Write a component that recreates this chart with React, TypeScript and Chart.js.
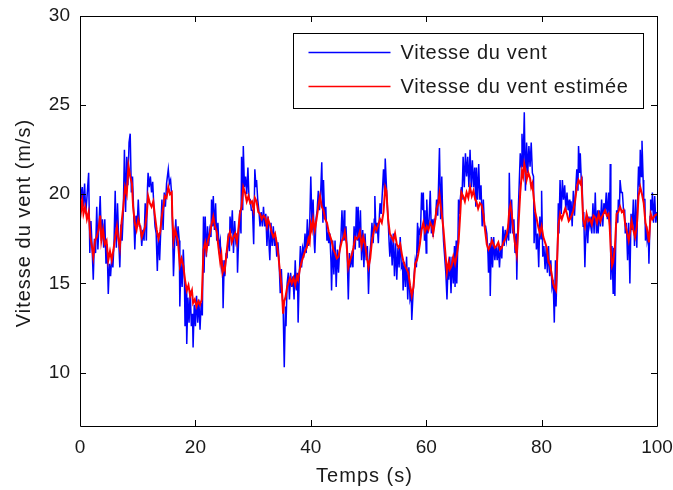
import React, { useEffect, useRef } from "react";
import { Chart, registerables } from "chart.js";

Chart.register(...registerables);

const seriesNames = ["Vitesse du vent", "Vitesse du vent estimée"];
const xTitle = "Temps (s)";
const yTitle = "Vitesse du vent (m/s)";
const xTicks = [0, 20, 40, 60, 80, 100];
const yTicks = [10, 15, 20, 25, 30];
const xRange = [0, 100];
const yRange = [7, 30];

// measured wind speed [time (s), speed (m/s)]
const windMeasured: [number, number][] = [
  [0.0, 20.8], [0.2, 19.7], [0.4, 20.4], [0.6, 19.3], [0.8, 20.6], [1.0, 18.9], [1.2, 19.8], [1.5, 21.2], [1.7, 16.7], [1.9, 18.5],
  [2.1, 17.0], [2.3, 15.2], [2.5, 17.5], [2.7, 16.7], [2.9, 19.3], [3.1, 16.9], [3.3, 18.4], [3.5, 19.9], [3.7, 17.4], [3.9, 18.6],
  [4.1, 17.0], [4.3, 18.6], [4.5, 16.1], [4.7, 17.2], [4.9, 14.4], [5.1, 16.1], [5.3, 15.4], [5.5, 16.5], [5.7, 15.9], [5.9, 17.3],
  [6.1, 20.2], [6.3, 17.0], [6.5, 19.5], [6.7, 17.5], [6.9, 15.9], [7.1, 18.3], [7.3, 17.4], [7.5, 19.0], [7.7, 22.5], [7.9, 19.0],
  [8.1, 22.1], [8.3, 20.5], [8.5, 22.9], [8.7, 23.4], [8.9, 20.1], [9.1, 21.0], [9.3, 19.0], [9.5, 16.9], [9.7, 18.8], [9.9, 18.2],
  [10.1, 19.7], [10.3, 18.2], [10.5, 18.2], [10.7, 17.1], [10.9, 18.0], [11.1, 17.4], [11.3, 19.5], [11.5, 17.4], [11.7, 20.4], [11.8, 21.2],
  [12.0, 20.4], [12.2, 21.0], [12.4, 20.1], [12.6, 20.7], [12.8, 19.3], [13.0, 18.2], [13.2, 17.8], [13.4, 15.7], [13.6, 17.8], [13.8, 16.3],
  [14.0, 18.0], [14.2, 19.7], [14.4, 18.0], [14.6, 20.1], [14.8, 19.3], [15.0, 20.6], [15.3, 21.4], [15.5, 20.6], [15.7, 20.8], [15.9, 19.9],
  [16.0, 18.7], [16.2, 15.4], [16.4, 17.2], [16.6, 18.6], [16.8, 17.1], [17.0, 18.2], [17.2, 17.4], [17.3, 13.7], [17.5, 16.2], [17.7, 14.8],
  [17.9, 16.9], [18.1, 15.2], [18.2, 12.6], [18.4, 14.8], [18.5, 11.6], [18.7, 14.2], [18.9, 12.8], [19.1, 14.6], [19.3, 12.6], [19.5, 13.3],
  [19.6, 11.4], [19.8, 13.8], [20.0, 12.6], [20.2, 14.3], [20.4, 12.8], [20.6, 14.1], [20.8, 12.4], [21.0, 13.9], [21.2, 13.2], [21.4, 18.75],
  [21.5, 15.6], [21.7, 18.75], [21.9, 16.5], [22.1, 18.2], [22.3, 17.1], [22.5, 18.0], [22.7, 17.6], [22.8, 19.7], [23.0, 18.2], [23.1, 19.9],
  [23.3, 18.0], [23.5, 19.5], [23.7, 17.4], [23.9, 18.4], [24.1, 17.0], [24.3, 17.4], [24.5, 15.9], [24.7, 16.3], [24.8, 13.6], [25.0, 16.3],
  [25.1, 15.4], [25.3, 16.6], [25.5, 16.5], [25.7, 17.8], [25.9, 16.8], [26.0, 18.75], [26.2, 17.8], [26.4, 19.1], [26.6, 16.7], [26.8, 18.5],
  [27.0, 17.4], [27.2, 17.8], [27.3, 15.6], [27.5, 17.6], [27.7, 19.1], [27.9, 17.8], [28.0, 22.1], [28.2, 19.1], [28.3, 22.7], [28.5, 20.4],
  [28.7, 21.0], [28.9, 20.0], [29.1, 21.5], [29.3, 19.7], [29.5, 19.7], [29.7, 19.1], [29.9, 19.1], [30.1, 17.2], [30.3, 21.4], [30.5, 20.4],
  [30.6, 20.8], [30.8, 19.7], [31.0, 19.1], [31.2, 18.2], [31.4, 19.0], [31.6, 18.2], [31.8, 19.3], [32.0, 18.2], [32.2, 18.9], [32.4, 17.1],
  [32.6, 18.75], [32.8, 16.9], [32.9, 16.3], [33.1, 18.4], [33.3, 17.1], [33.5, 18.2], [33.7, 17.1], [33.9, 17.6], [34.1, 16.5], [34.3, 17.3],
  [34.5, 16.3], [34.7, 14.45], [34.9, 15.8], [35.1, 14.1], [35.2, 13.7], [35.4, 10.3], [35.6, 13.7], [35.7, 12.6], [35.9, 15.0], [36.1, 15.6],
  [36.3, 14.1], [36.5, 15.6], [36.7, 14.8], [36.9, 15.4], [37.1, 14.1], [37.3, 16.3], [37.5, 14.6], [37.7, 15.6], [37.8, 12.8], [38.0, 15.4],
  [38.2, 17.1], [38.4, 15.9], [38.6, 17.0], [38.8, 16.7], [39.0, 17.8], [39.2, 16.7], [39.4, 18.6], [39.6, 17.1], [39.8, 18.2], [40.0, 21.0],
  [40.2, 18.3], [40.4, 19.7], [40.6, 17.25], [40.7, 16.7], [40.9, 18.6], [41.1, 19.1], [41.3, 20.2], [41.5, 19.1], [41.7, 20.0], [41.9, 21.8],
  [42.1, 18.4], [42.2, 20.8], [42.4, 18.6], [42.6, 19.3], [42.8, 17.4], [43.0, 17.8], [43.1, 17.25], [43.3, 17.8], [43.5, 16.2], [43.6, 14.6],
  [43.8, 17.4], [44.0, 15.5], [44.2, 17.4], [44.4, 14.8], [44.6, 16.9], [44.8, 15.6], [45.0, 16.9], [45.2, 17.4], [45.4, 19.1], [45.6, 17.4],
  [45.8, 19.1], [45.9, 17.4], [46.1, 18.2], [46.3, 16.7], [46.5, 14.1], [46.7, 16.7], [46.9, 15.9], [47.1, 16.5], [47.3, 15.9], [47.5, 18.2],
  [47.7, 16.9], [47.9, 19.3], [48.1, 17.4], [48.2, 19.3], [48.4, 17.0], [48.6, 19.1], [48.8, 16.3], [49.0, 18.0], [49.2, 15.9], [49.4, 17.8],
  [49.6, 16.3], [49.8, 17.1], [50.0, 14.4], [50.2, 16.5], [50.4, 17.25], [50.6, 18.4], [50.8, 17.25], [51.0, 18.6], [51.1, 19.9], [51.3, 17.8],
  [51.5, 18.4], [51.7, 17.25], [51.9, 18.9], [52.0, 19.5], [52.2, 18.9], [52.4, 20.1], [52.6, 21.4], [52.8, 20.1], [52.9, 22.0], [53.1, 20.5],
  [53.3, 19.1], [53.4, 18.6], [53.6, 17.1], [53.7, 16.5], [53.9, 17.6], [54.1, 16.0], [54.3, 17.8], [54.5, 15.4], [54.7, 17.25], [54.9, 15.2],
  [55.1, 17.0], [55.3, 15.9], [55.5, 17.6], [55.7, 15.9], [55.9, 16.1], [56.0, 14.6], [56.2, 16.2], [56.4, 14.8], [56.6, 16.5], [56.8, 14.1],
  [57.0, 15.9], [57.2, 14.1], [57.4, 14.4], [57.5, 12.95], [57.7, 14.3], [57.9, 15.4], [58.1, 16.3], [58.3, 15.9], [58.5, 18.4], [58.6, 16.7],
  [58.8, 18.0], [59.0, 17.8], [59.2, 20.1], [59.4, 19.1], [59.5, 20.1], [59.7, 17.4], [59.8, 19.1], [60.0, 16.7], [60.1, 19.7], [60.3, 17.8],
  [60.5, 18.6], [60.7, 20.2], [60.9, 17.8], [61.1, 18.6], [61.2, 17.6], [61.4, 18.6], [61.6, 18.6], [61.8, 19.7], [62.0, 18.8], [62.3, 22.6],
  [62.5, 18.6], [62.7, 21.0], [62.9, 18.2], [63.0, 17.4], [63.2, 16.5], [63.4, 15.6], [63.6, 14.1], [63.8, 16.1], [63.9, 15.2], [64.1, 16.5],
  [64.3, 14.45], [64.5, 16.5], [64.7, 15.0], [64.9, 17.1], [65.0, 14.8], [65.2, 17.4], [65.3, 15.0], [65.5, 17.4], [65.6, 19.7], [65.8, 18.9],
  [65.9, 19.7], [66.1, 20.4], [66.2, 19.7], [66.4, 22.1], [66.6, 20.4], [66.8, 22.3], [67.0, 21.0], [67.2, 22.1], [67.4, 20.4], [67.6, 22.5],
  [67.8, 20.4], [68.0, 21.9], [68.2, 20.4], [68.4, 21.5], [68.6, 19.3], [68.7, 21.5], [68.9, 19.7], [69.1, 21.7], [69.3, 19.7], [69.5, 20.5],
  [69.7, 18.2], [69.9, 19.7], [70.1, 18.2], [70.3, 18.2], [70.5, 17.8], [70.7, 16.7], [70.8, 15.6], [71.0, 17.25], [71.1, 14.3], [71.3, 17.6],
  [71.5, 15.9], [71.7, 17.6], [71.9, 16.3], [72.1, 17.1], [72.3, 16.3], [72.5, 17.1], [72.7, 15.9], [72.9, 17.1], [73.1, 16.4], [73.3, 18.2],
  [73.5, 17.1], [73.7, 18.0], [73.9, 17.4], [74.1, 18.0], [74.3, 17.4], [74.4, 21.2], [74.6, 17.8], [74.8, 19.7], [75.0, 17.8], [75.2, 18.6],
  [75.4, 16.7], [75.6, 17.8], [75.7, 15.2], [75.9, 18.6], [76.1, 20.4], [76.3, 22.3], [76.5, 21.55], [76.6, 23.4], [76.8, 21.55], [77.0, 24.6],
  [77.2, 20.2], [77.4, 22.9], [77.6, 21.2], [77.8, 22.7], [78.0, 21.55], [78.2, 22.9], [78.4, 21.2], [78.6, 21.0], [78.7, 17.25], [78.9, 19.0],
  [79.1, 16.9], [79.3, 17.8], [79.5, 15.9], [79.7, 18.75], [79.9, 17.5], [80.0, 20.2], [80.2, 16.5], [80.4, 17.1], [80.6, 15.8], [80.8, 17.1],
  [81.0, 15.6], [81.2, 17.1], [81.4, 15.4], [81.6, 16.3], [81.8, 14.8], [82.0, 15.2], [82.2, 12.8], [82.4, 16.3], [82.5, 13.7], [82.7, 16.0],
  [82.9, 19.5], [83.0, 17.8], [83.2, 20.8], [83.4, 18.9], [83.6, 20.8], [83.8, 19.7], [84.0, 20.5], [84.2, 19.1], [84.4, 20.1], [84.6, 19.1],
  [84.8, 19.7], [84.9, 18.6], [85.1, 19.6], [85.3, 18.2], [85.5, 20.2], [85.7, 18.8], [85.9, 20.2], [86.1, 21.4], [86.3, 20.2], [86.4, 22.7],
  [86.6, 21.2], [86.7, 22.3], [86.9, 20.6], [87.0, 21.0], [87.2, 18.2], [87.3, 19.0], [87.5, 15.9], [87.6, 17.1], [87.8, 18.75], [88.0, 17.25],
  [88.2, 18.75], [88.4, 18.2], [88.6, 18.75], [88.7, 17.8], [88.9, 19.5], [89.1, 17.8], [89.3, 20.1], [89.5, 17.8], [89.7, 19.1], [89.8, 17.8],
  [90.0, 19.1], [90.2, 18.2], [90.4, 19.7], [90.6, 18.2], [90.8, 19.5], [91.0, 18.9], [91.2, 20.1], [91.4, 18.6], [91.6, 20.1], [91.8, 18.6],
  [91.9, 21.7], [92.0, 15.2], [92.2, 17.1], [92.4, 14.45], [92.5, 17.0], [92.7, 14.3], [92.9, 18.4], [93.0, 19.1], [93.2, 18.4], [93.3, 19.7],
  [93.5, 19.3], [93.6, 20.8], [93.8, 20.1], [94.0, 20.1], [94.2, 19.1], [94.4, 19.1], [94.5, 17.8], [94.7, 18.4], [94.9, 16.3], [95.1, 18.4],
  [95.3, 15.0], [95.5, 18.9], [95.7, 18.0], [95.9, 19.7], [96.1, 17.1], [96.3, 19.7], [96.5, 17.0], [96.7, 20.4], [96.8, 21.55], [97.0, 20.4],
  [97.1, 22.5], [97.3, 21.0], [97.4, 23.0], [97.6, 20.8], [97.7, 19.7], [97.9, 19.7], [98.0, 17.4], [98.2, 18.2], [98.3, 17.4], [98.5, 17.8],
  [98.6, 16.1], [98.8, 18.75], [98.9, 19.7], [99.1, 19.1], [99.2, 20.1], [99.4, 18.4], [99.6, 19.9], [99.8, 18.4], [100.0, 19.0],
];

// estimated wind speed [time (s), speed (m/s)]
const windEstimated: [number, number][] = [
  [0.0, 19.9], [0.2, 19.1], [0.4, 19.6], [0.6, 18.9], [0.9, 19.3], [1.2, 18.6], [1.5, 19.0], [1.8, 17.6], [2.1, 17.0], [2.3, 16.5],
  [2.6, 17.4], [2.9, 17.6], [3.2, 18.0], [3.5, 18.8], [3.7, 17.4], [4.0, 18.0], [4.3, 17.2], [4.6, 17.4], [4.9, 16.3], [5.2, 16.8],
  [5.5, 16.3], [5.8, 16.9], [6.1, 17.6], [6.4, 18.2], [6.6, 17.6], [6.9, 17.0], [7.2, 18.4], [7.5, 19.3], [7.8, 20.4], [8.1, 20.0],
  [8.4, 21.6], [8.7, 21.0], [9.0, 20.6], [9.2, 19.3], [9.5, 18.4], [9.8, 18.0], [10.1, 18.6], [10.4, 18.2], [10.7, 17.6], [11.0, 17.9],
  [11.3, 18.2], [11.6, 19.0], [11.8, 19.9], [12.1, 19.5], [12.4, 19.3], [12.7, 19.6], [13.0, 18.75], [13.3, 18.0], [13.6, 17.5], [13.9, 17.9],
  [14.2, 18.8], [14.5, 19.4], [14.7, 19.9], [15.0, 19.8], [15.3, 20.4], [15.6, 20.0], [15.9, 20.1], [16.0, 18.8], [16.2, 17.4], [16.5, 18.0],
  [16.8, 17.6], [17.0, 17.3], [17.3, 16.0], [17.6, 16.4], [17.9, 16.0], [18.2, 15.2], [18.5, 14.6], [18.8, 14.9], [19.1, 14.3], [19.4, 14.6],
  [19.6, 13.9], [19.9, 14.1], [20.2, 13.7], [20.5, 14.0], [20.8, 13.8], [21.1, 14.1], [21.4, 16.9], [21.7, 17.3], [21.9, 16.8], [22.2, 17.4],
  [22.5, 17.8], [22.8, 18.3], [23.1, 18.75], [23.4, 18.2], [23.7, 17.9], [24.0, 17.0], [24.3, 16.2], [24.5, 16.6], [24.7, 15.6], [25.0, 15.9],
  [25.1, 15.8], [25.4, 16.7], [25.7, 17.6], [26.0, 17.9], [26.3, 17.3], [26.6, 17.6], [26.9, 17.8], [27.2, 17.3], [27.5, 18.2], [27.7, 18.9],
  [28.0, 19.3], [28.3, 20.4], [28.6, 20.1], [28.9, 19.6], [29.2, 19.9], [29.5, 19.5], [29.8, 19.6], [30.1, 19.1], [30.3, 19.8], [30.6, 19.6],
  [30.9, 19.0], [31.2, 18.9], [31.5, 18.6], [31.8, 18.8], [32.1, 18.7], [32.4, 18.2], [32.6, 18.6], [32.9, 18.3], [33.2, 17.9], [33.5, 17.6],
  [33.8, 17.8], [34.1, 17.25], [34.4, 16.5], [34.7, 15.5], [35.0, 14.6], [35.2, 13.3], [35.4, 14.0], [35.6, 14.2], [35.9, 14.8], [36.1, 15.0],
  [36.4, 15.3], [36.7, 15.0], [37.0, 15.3], [37.3, 14.9], [37.6, 15.4], [37.8, 15.2], [38.1, 15.8], [38.4, 16.2], [38.7, 16.5], [39.0, 16.8],
  [39.3, 17.0], [39.6, 17.5], [39.8, 17.3], [40.0, 18.3], [40.2, 18.0], [40.4, 18.6], [40.7, 18.0], [41.0, 18.6], [41.3, 19.3], [41.6, 19.9],
  [41.9, 19.3], [42.2, 19.1], [42.5, 18.6], [42.8, 18.4], [43.1, 17.9], [43.4, 17.6], [43.6, 17.4], [43.9, 16.9], [44.2, 16.7], [44.5, 16.4],
  [44.8, 16.5], [45.1, 17.0], [45.4, 17.4], [45.7, 17.6], [45.9, 17.9], [46.2, 17.2], [46.5, 15.9], [46.8, 16.3], [47.1, 16.6], [47.4, 17.0],
  [47.7, 17.6], [48.0, 17.5], [48.2, 17.6], [48.5, 17.9], [48.8, 17.1], [49.1, 17.6], [49.4, 17.2], [49.7, 16.5], [50.0, 15.9], [50.3, 16.4],
  [50.6, 17.4], [50.9, 17.9], [51.1, 18.2], [51.4, 18.0], [51.7, 18.3], [52.0, 18.6], [52.3, 18.4], [52.6, 19.0], [52.9, 20.4], [53.1, 20.2],
  [53.4, 18.6], [53.7, 17.8], [54.0, 17.6], [54.3, 17.4], [54.6, 17.8], [54.9, 17.2], [55.2, 17.0], [55.5, 17.2], [55.8, 16.6], [56.0, 16.3],
  [56.3, 16.0], [56.6, 15.8], [56.9, 15.6], [57.2, 14.9], [57.5, 14.3], [57.8, 14.8], [58.1, 16.1], [58.4, 16.3], [58.6, 16.6], [58.9, 17.2],
  [59.2, 18.0], [59.5, 18.4], [59.8, 17.9], [60.1, 18.2], [60.4, 18.0], [60.7, 18.4], [61.0, 18.2], [61.2, 17.8], [61.5, 18.4], [61.8, 19.2],
  [62.1, 19.5], [62.3, 20.0], [62.5, 19.4], [62.7, 18.9], [63.0, 18.0], [63.3, 16.8], [63.6, 15.6], [63.9, 16.2], [64.1, 15.8], [64.4, 16.0],
  [64.7, 16.5], [65.0, 16.1], [65.3, 16.6], [65.6, 17.3], [65.9, 18.9], [66.1, 20.1], [66.4, 19.9], [66.7, 19.6], [67.0, 20.1], [67.3, 19.8],
  [67.6, 20.4], [67.9, 19.9], [68.2, 20.2], [68.5, 19.7], [68.7, 19.6], [69.0, 19.2], [69.3, 19.5], [69.6, 19.4], [69.9, 18.9], [70.2, 18.0],
  [70.5, 17.2], [70.8, 16.9], [71.1, 17.1], [71.4, 17.4], [71.6, 17.25], [71.9, 17.0], [72.2, 17.1], [72.5, 17.3], [72.8, 16.9], [73.1, 17.0],
  [73.4, 17.3], [73.7, 17.5], [74.0, 17.8], [74.2, 18.2], [74.4, 19.1], [74.6, 19.4], [74.8, 19.0], [75.1, 18.0], [75.4, 17.2], [75.7, 16.6],
  [76.0, 18.3], [76.3, 20.1], [76.6, 21.3], [76.8, 21.0], [77.0, 21.7], [77.2, 21.4], [77.4, 20.8], [77.7, 21.2], [78.0, 20.9], [78.2, 20.4],
  [78.4, 20.6], [78.7, 19.6], [78.9, 19.0], [79.1, 18.7], [79.4, 18.2], [79.7, 17.8], [80.0, 18.2], [80.3, 17.6], [80.6, 17.3], [80.9, 17.0],
  [81.2, 16.2], [81.5, 16.0], [81.8, 15.4], [82.0, 15.0], [82.2, 14.8], [82.5, 14.6], [82.7, 16.4], [82.9, 18.2], [83.2, 18.9], [83.5, 18.6],
  [83.8, 18.9], [84.1, 19.2], [84.4, 18.9], [84.7, 18.5], [84.9, 18.6], [85.2, 18.8], [85.5, 19.1], [85.8, 19.6], [86.1, 20.4], [86.4, 20.8],
  [86.7, 20.6], [86.9, 20.8], [87.2, 18.6], [87.5, 18.2], [87.8, 18.9], [88.1, 18.5], [88.4, 18.6], [88.7, 18.3], [89.0, 18.8], [89.3, 18.7],
  [89.6, 18.4], [89.9, 18.9], [90.2, 18.5], [90.4, 18.7], [90.7, 18.9], [91.0, 19.1], [91.3, 18.8], [91.6, 18.9], [91.8, 18.2], [92.0, 16.8],
  [92.2, 16.0], [92.4, 16.2], [92.7, 17.0], [93.0, 18.9], [93.3, 19.0], [93.6, 19.3], [93.9, 19.0], [94.2, 19.1], [94.5, 18.3], [94.8, 17.9],
  [95.1, 17.4], [95.4, 18.0], [95.6, 18.5], [95.9, 18.0], [96.2, 17.6], [96.5, 18.2], [96.8, 19.9], [97.1, 20.4], [97.4, 20.0], [97.7, 19.5],
  [98.0, 18.4], [98.3, 18.0], [98.6, 17.3], [98.9, 18.9], [99.2, 18.6], [99.6, 18.8], [100.0, 18.9],
];

const FONT = "'Liberation Sans', Arial, Helvetica, sans-serif";
const TEXT = "#1a1a1a";
const BLUE = "#0000ff";
const RED = "#ff0000";

const framePlugin = {
  id: "matlabFrame",
  afterDatasetsDraw(chart: any) {
    const { ctx, chartArea } = chart;
    const { left, right, top, bottom } = chartArea;
    const xs = chart.scales.x;
    const ys = chart.scales.y;
    ctx.save();
    ctx.strokeStyle = "#000";
    ctx.lineWidth = 1;
    ctx.beginPath();
    ctx.rect(Math.round(left) + 0.5, Math.round(top) + 0.5, Math.round(right - left), Math.round(bottom - top));
    ctx.stroke();
    const tl = 6;
    ctx.beginPath();
    xTicks.forEach((v) => {
      const px = Math.round(xs.getPixelForValue(v)) + 0.5;
      ctx.moveTo(px, bottom);
      ctx.lineTo(px, bottom - tl);
      ctx.moveTo(px, top);
      ctx.lineTo(px, top + tl);
    });
    yTicks.forEach((v) => {
      const py = Math.round(ys.getPixelForValue(v)) + 0.5;
      ctx.moveTo(left, py);
      ctx.lineTo(left + tl, py);
      ctx.moveTo(right, py);
      ctx.lineTo(right - tl, py);
    });
    ctx.stroke();

    // axis titles
    ctx.fillStyle = TEXT;
    ctx.font = `20px ${FONT}`;
    (ctx as any).letterSpacing = "1px";
    ctx.textAlign = "center";
    ctx.textBaseline = "alphabetic";
    ctx.fillText(xTitle, (left + right) / 2 - 4, bottom + 56);
    ctx.save();
    ctx.translate(30, (top + bottom) / 2 + 2);
    ctx.rotate(-Math.PI / 2);
    ctx.fillText(yTitle, 0, 0);
    ctx.restore();

    // legend box
    const w = 350;
    const h = 75;
    const lx = Math.round(right - 14 - w) + 0.5;
    const ly = Math.round(top + 17) + 0.5;
    ctx.fillStyle = "#fff";
    ctx.fillRect(lx, ly, w, h);
    ctx.strokeStyle = "#000";
    ctx.lineWidth = 1;
    ctx.strokeRect(lx, ly, w, h);
    const rows = [ly + 19, ly + 53];
    const cols = [BLUE, RED];
    ctx.font = `20px ${FONT}`;
    (ctx as any).letterSpacing = "0.7px";
    ctx.textBaseline = "middle";
    ctx.textAlign = "left";
    seriesNames.forEach((name, i) => {
      ctx.strokeStyle = cols[i];
      ctx.lineWidth = 1.5;
      ctx.beginPath();
      ctx.moveTo(lx + 15, rows[i]);
      ctx.lineTo(lx + 97, rows[i]);
      ctx.stroke();
      ctx.fillStyle = TEXT;
      ctx.fillText(name, lx + 107, rows[i] + 1);
    });
    (ctx as any).letterSpacing = "0px";
    ctx.restore();
  },
};

export default function App() {
  const ref = useRef<HTMLCanvasElement | null>(null);
  useEffect(() => {
    if (!ref.current) return;
    const chart = new Chart(ref.current, {
      type: "line",
      data: {
        datasets: [
          {
            label: seriesNames[0],
            data: windMeasured.map(([x, y]) => ({ x, y })),
            borderColor: BLUE,
            borderWidth: 1.5,
            pointRadius: 0,
            tension: 0,
            order: 2,
          },
          {
            label: seriesNames[1],
            data: windEstimated.map(([x, y]) => ({ x, y })),
            borderColor: RED,
            borderWidth: 2,
            pointRadius: 0,
            tension: 0,
            order: 1,
          },
        ],
      },
      options: {
        animation: false,
        responsive: false,
        devicePixelRatio: 1,
        layout: { padding: { left: 0, top: 16, right: 16, bottom: 0 } },
        plugins: { legend: { display: false }, tooltip: { enabled: false } },
        scales: {
          x: {
            type: "linear",
            min: xRange[0],
            max: xRange[1],
            grid: { display: false, drawTicks: false },
            border: { display: false },
            afterBuildTicks: (s: any) => {
              s.ticks = xTicks.map((value) => ({ value }));
            },
            afterFit: (s: any) => {
              s.height = 64;
              s.paddingLeft = 0;
              s.paddingRight = 0;
            },
            ticks: {
              padding: 10,
              color: TEXT,
              font: { family: FONT, size: 19 },
              maxRotation: 0,
              autoSkip: false,
            },
          },
          y: {
            type: "linear",
            min: yRange[0],
            max: yRange[1],
            grid: { display: false, drawTicks: false },
            border: { display: false },
            afterBuildTicks: (s: any) => {
              s.ticks = yTicks.map((value) => ({ value }));
            },
            afterFit: (s: any) => {
              s.width = 80;
              s.paddingTop = 0;
              s.paddingBottom = 0;
            },
            ticks: {
              padding: 10,
              color: TEXT,
              font: { family: FONT, size: 19 },
              autoSkip: false,
            },
          },
        },
      },
      plugins: [framePlugin],
    });
    return () => chart.destroy();
  }, []);
  return (
    <div style={{ position: "absolute", left: 0, top: 0, width: 673, height: 490, background: "#fff" }}>
      <canvas ref={ref} width={673} height={490} style={{ display: "block" }} />
    </div>
  );
}
